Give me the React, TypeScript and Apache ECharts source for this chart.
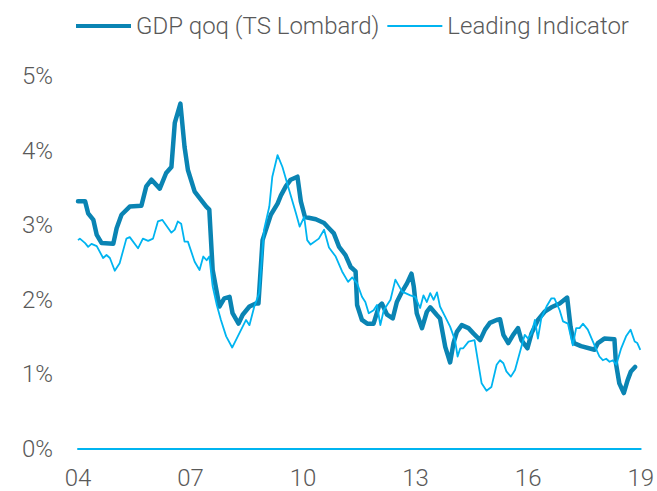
import React, { useEffect, useRef } from "react";
import * as echarts from "echarts";

const xTickLabels = ["04", "07", "10", "13", "16", "19"];
const yTickLabels = ["0%", "1%", "2%", "3%", "4%", "5%"];

const gdpName = "GDP qoq (TS Lombard)";
const leadName = "Leading Indicator";

const gdpDates = [
  2004.0, 2004.19, 2004.27, 2004.41, 2004.5, 2004.63, 2004.94, 2005.03, 2005.16, 2005.38,
  2005.69, 2005.82, 2005.96, 2006.18, 2006.35, 2006.49, 2006.58, 2006.73, 2006.84, 2006.93,
  2007.11, 2007.28, 2007.42, 2007.5, 2007.59, 2007.77, 2007.9, 2008.04, 2008.12, 2008.28,
  2008.39, 2008.57, 2008.74, 2008.81, 2008.92, 2009.14, 2009.32, 2009.41, 2009.54, 2009.67,
  2009.85, 2009.94, 2010.05, 2010.34, 2010.56, 2010.69, 2010.82, 2010.96, 2011.13, 2011.27,
  2011.4, 2011.44, 2011.57, 2011.71, 2011.88, 2012.02, 2012.1, 2012.24, 2012.39, 2012.5,
  2012.64, 2012.77, 2012.89, 2012.95, 2013.03, 2013.17, 2013.3, 2013.39, 2013.56, 2013.65,
  2013.79, 2013.92, 2014.01, 2014.1, 2014.23, 2014.41, 2014.54, 2014.72, 2014.85, 2014.98,
  2015.16, 2015.25, 2015.34, 2015.47, 2015.6, 2015.73, 2015.82, 2015.98, 2016.09, 2016.26,
  2016.44, 2016.62, 2016.84, 2017.04, 2017.13, 2017.22, 2017.41, 2017.77, 2017.86, 2018.03,
  2018.3, 2018.34, 2018.43, 2018.55, 2018.65, 2018.74, 2018.85,
];
const gdpValues = [
  3.32, 3.32, 3.16, 3.07, 2.87, 2.76, 2.75, 2.96, 3.14, 3.25,
  3.26, 3.52, 3.61, 3.49, 3.7, 3.78, 4.37, 4.63, 4.05, 3.74,
  3.45, 3.34, 3.25, 3.21, 2.4, 1.91, 2.02, 2.04, 1.82, 1.68,
  1.8, 1.91, 1.95, 1.95, 2.8, 3.14, 3.29, 3.4, 3.52, 3.61,
  3.65, 3.32, 3.11, 3.08, 3.03, 2.96, 2.89, 2.71, 2.6, 2.44,
  2.38, 1.93, 1.73, 1.68, 1.68, 1.91, 1.95, 1.8, 1.75, 1.97,
  2.11, 2.22, 2.35, 2.18, 1.82, 1.62, 1.84, 1.9, 1.8, 1.75,
  1.37, 1.16, 1.42, 1.57, 1.66, 1.62, 1.55, 1.46, 1.6, 1.69,
  1.73, 1.74, 1.53, 1.42, 1.53, 1.62, 1.46, 1.35, 1.55, 1.73,
  1.84, 1.9, 1.95, 2.03, 1.64, 1.42, 1.38, 1.33, 1.42, 1.48,
  1.47, 1.15, 0.88, 0.75, 0.92, 1.04, 1.1,
];

const leadDates = [
  2004.0, 2004.05, 2004.19, 2004.27, 2004.36, 2004.5, 2004.67, 2004.76, 2004.85, 2004.98,
  2005.11, 2005.29, 2005.38, 2005.6, 2005.73, 2005.87, 2006.0, 2006.13, 2006.25, 2006.49,
  2006.58, 2006.66, 2006.75, 2006.84, 2006.93, 2007.11, 2007.24, 2007.34, 2007.43, 2007.5,
  2007.59, 2007.7, 2007.81, 2007.95, 2008.11, 2008.26, 2008.39, 2008.48, 2008.57, 2008.7,
  2008.83, 2008.96, 2009.1, 2009.18, 2009.32, 2009.45, 2009.63, 2009.81, 2009.91, 2010.03,
  2010.11, 2010.2, 2010.42, 2010.56, 2010.69, 2010.87, 2011.04, 2011.2, 2011.31, 2011.44,
  2011.57, 2011.66, 2011.75, 2011.88, 2011.97, 2012.06, 2012.15, 2012.33, 2012.46, 2012.64,
  2012.86, 2012.99, 2013.12, 2013.21, 2013.3, 2013.39, 2013.48, 2013.57, 2013.65, 2013.79,
  2013.92, 2014.05, 2014.12, 2014.19, 2014.27, 2014.41, 2014.57, 2014.67, 2014.76, 2014.89,
  2015.02, 2015.16, 2015.25, 2015.34, 2015.42, 2015.54, 2015.65, 2015.82, 2015.91, 2016.0,
  2016.09, 2016.18, 2016.26, 2016.35, 2016.49, 2016.62, 2016.7, 2016.84, 2016.93, 2017.06,
  2017.19, 2017.28, 2017.37, 2017.46, 2017.59, 2017.77, 2017.9, 2017.99, 2018.08, 2018.17,
  2018.26, 2018.35, 2018.48, 2018.61, 2018.73, 2018.84, 2018.91, 2018.99,
];
const leadValues = [
  2.8, 2.82, 2.76, 2.71, 2.75, 2.72, 2.56, 2.6, 2.56, 2.39,
  2.49, 2.82, 2.84, 2.69, 2.82, 2.79, 2.82, 3.05, 3.07, 2.9,
  2.94, 3.05, 3.02, 2.78, 2.78, 2.51, 2.4, 2.58, 2.53, 2.58,
  2.18, 1.93, 1.73, 1.51, 1.36, 1.51, 1.64, 1.73, 1.66, 1.91,
  2.09, 2.94, 3.25, 3.65, 3.94, 3.78, 3.47, 3.16, 2.98, 3.11,
  2.8, 2.74, 2.82, 2.94, 2.7, 2.58, 2.38, 2.24, 2.3, 2.22,
  2.04, 1.97, 1.82, 1.86, 1.93, 1.66, 1.86, 2.0, 2.27, 2.11,
  2.06, 2.04, 1.89, 2.06, 1.97, 2.09, 2.0, 2.1, 1.91, 1.77,
  1.64, 1.46, 1.24, 1.35, 1.35, 1.44, 1.46, 1.15, 0.88, 0.78,
  0.83, 1.13, 1.19, 1.15, 1.04, 0.97, 1.06, 1.37, 1.53, 1.48,
  1.55, 1.73, 1.48, 1.75, 1.91, 2.02, 2.02, 1.86, 1.71, 1.68,
  1.39, 1.62, 1.62, 1.68, 1.6, 1.39, 1.24, 1.19, 1.21, 1.17,
  1.19, 1.13, 1.35, 1.51, 1.6, 1.44, 1.42, 1.33,
];

const GDP_COLOR = "#0a84b3";
const LEAD_COLOR = "#00b4f0";
const TEXT_COLOR = "#595959";
const FONT = "Roboto, 'Liberation Sans', sans-serif";

export default function App() {
  const ref = useRef<HTMLDivElement>(null);

  useEffect(() => {
    if (!ref.current) return;
    const chart = echarts.init(ref.current, undefined, { renderer: "svg" });
    const gdpData = gdpDates.map((d, i) => [d, gdpValues[i]]);
    const leadData = leadDates.map((d, i) => [d, leadValues[i]]);
    chart.setOption({
      animation: false,
      backgroundColor: "#ffffff",
      textStyle: { fontFamily: FONT },
      legend: {
        left: 71,
        top: 8,
        itemWidth: 55,
        itemHeight: 14,
        itemGap: 8,
        textStyle: {
          fontSize: 24,
          fontWeight: 300,
          color: TEXT_COLOR,
          fontFamily: FONT,
          lineHeight: 26,
        },
        data: [
          { name: gdpName, icon: "path://M0,0 L55,0 L55,4 L0,4 Z" },
          { name: leadName, icon: "path://M0,0 L55,0 L55,2 L0,2 Z" },
        ],
      },
      grid: { left: 78, right: 14, top: 76, bottom: 42, containLabel: false },
      xAxis: {
        type: "value",
        min: 2004,
        max: 2019,
        interval: 3,
        axisLine: { show: true, onZero: true, lineStyle: { color: LEAD_COLOR, width: 2 } },
        axisTick: { show: false },
        splitLine: { show: false },
        axisLabel: {
          fontSize: 24,
          fontWeight: 300,
          color: TEXT_COLOR,
          fontFamily: FONT,
          lineHeight: 16,
          margin: 21,
          formatter: (v: number) => xTickLabels[Math.round((v - 2004) / 3)] ?? "",
        },
      },
      yAxis: {
        type: "value",
        min: 0,
        max: 5,
        interval: 1,
        axisLine: { show: false },
        axisTick: { show: false },
        splitLine: { show: false },
        axisLabel: {
          fontSize: 24,
          fontWeight: 300,
          color: TEXT_COLOR,
          fontFamily: FONT,
          margin: 25,
          formatter: (v: number) => yTickLabels[Math.round(v)] ?? "",
        },
      },
      series: [
        {
          name: gdpName,
          type: "line",
          data: gdpData,
          symbol: "none",
          z: 3,
          lineStyle: { color: GDP_COLOR, width: 4.5, join: "round", cap: "round" },
          itemStyle: { color: GDP_COLOR },
        },
        {
          name: leadName,
          type: "line",
          data: leadData,
          symbol: "none",
          z: 4,
          lineStyle: { color: LEAD_COLOR, width: 1.8, join: "round" },
          itemStyle: { color: LEAD_COLOR },
        },
      ],
    });
    return () => chart.dispose();
  }, []);

  return (
    <div
      ref={ref}
      style={{ position: "fixed", left: 0, top: 0, width: 657, height: 491, background: "#fff" }}
    />
  );
}
